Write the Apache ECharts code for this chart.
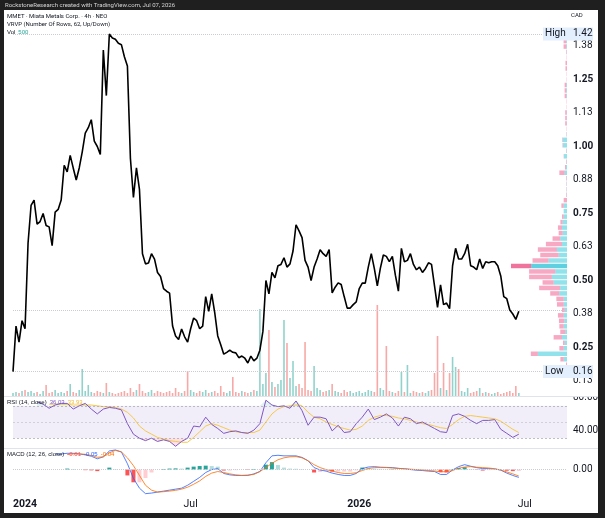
<!DOCTYPE html>
<html>
<head>
<meta charset="utf-8">
<script src="https://cdn.jsdelivr.net/npm/echarts@6/dist/echarts.min.js"></script>
<style>
html, body { margin: 0; padding: 0; background: #1f1f1f; }
#chart { width: 605px; height: 518px; }
</style>
</head>
<body>
<div id="chart"></div>
<script>
// slots on the time scale (3px each), data fills the first part
const N = 185;
const cats = Array.from({ length: N }, (_, i) => String(i));

// close prices, CAD
const price = [
  0.16, 0.33, 0.27, 0.35, 0.32, 0.64, 0.78, 0.80, 0.71, 0.72,
  0.75, 0.705, 0.70, 0.63, 0.755, 0.765, 0.80, 0.93, 0.905, 0.967,
  0.92, 0.875, 0.92, 0.98, 1.05, 1.07, 1.10, 1.02, 1.00, 0.97,
  1.36, 1.19, 1.42, 1.405, 1.40, 1.385, 1.38, 1.335, 1.30, 0.955,
  0.81, 0.92, 0.84, 0.60, 0.562, 0.565, 0.60, 0.58, 0.53, 0.515,
  0.47, 0.46, 0.453, 0.33, 0.293, 0.28, 0.319, 0.29, 0.27, 0.32,
  0.36, 0.35, 0.32, 0.33, 0.44, 0.385, 0.45, 0.38, 0.293, 0.26,
  0.225, 0.232, 0.24, 0.232, 0.23, 0.212, 0.218, 0.21, 0.192, 0.218,
  0.20, 0.21, 0.24, 0.31, 0.50, 0.45, 0.53, 0.51, 0.555, 0.56,
  0.585, 0.55, 0.562, 0.61, 0.708, 0.685, 0.66, 0.575, 0.55, 0.50,
  0.55, 0.58, 0.615, 0.60, 0.59, 0.615, 0.454, 0.475, 0.491, 0.485,
  0.44, 0.397, 0.397, 0.41, 0.42, 0.47, 0.49, 0.49, 0.55, 0.60,
  0.545, 0.48, 0.545, 0.595, 0.59, 0.57, 0.59, 0.52, 0.46, 0.62,
  0.57, 0.575, 0.60, 0.56, 0.54, 0.55, 0.53, 0.545, 0.566, 0.56,
  0.48, 0.40, 0.484, 0.41, 0.416, 0.395, 0.555, 0.62, 0.58, 0.58,
  0.60, 0.635, 0.555, 0.55, 0.54, 0.58, 0.545, 0.57, 0.566, 0.57,
  0.57, 0.555, 0.517, 0.44, 0.432, 0.39, 0.375, 0.355, 0.385
];

// volume, thousand shares
const volume = [
  3, 4, 3, 5, 6, 4, 5, 3, 4, 2,
  5, 11, 3, 4, 6, 3, 4, 3, 5, 12,
  4, 3, 6, 27, 5, 11, 4, 3, 5, 4,
  3, 13, 4, 3, 2, 3, 4, 5, 3, 8,
  4, 6, 12, 5, 3, 4, 6, 3, 5, 4,
  3, 4, 5, 3, 8, 4, 3, 5, 25, 6,
  4, 3, 5, 4, 6, 3, 4, 5, 3, 10,
  4, 3, 5, 19, 4, 3, 5, 4, 3, 4,
  6, 5, 87, 12, 23, 66, 14, 9, 12, 16,
  76, 53, 18, 35, 10, 12, 8, 54, 6, 5,
  30, 8, 6, 4, 5, 6, 12, 5, 4, 3,
  6, 4, 5, 3, 4, 5, 3, 4, 6, 5,
  4, 91, 8, 6, 50, 5, 4, 3, 5, 24,
  4, 31, 3, 5, 4, 3, 4, 3, 5, 6,
  23, 60, 8, 33, 6, 23, 39, 29, 27, 5,
  4, 8, 3, 4, 5, 8, 3, 4, 3, 2,
  3, 4, 2, 3, 4, 5, 3, 10, 3
];

// RSI(14) and its MA, one reading every second slot
const rsiStart = 8;
const rsi = [
  75, 72, 67, 71, 73, 73, 66, 70, 73, 66,
  60, 66, 68, 67, 65, 48, 35, 30, 27, 30,
  26, 28, 26, 20, 26, 30, 45, 44, 56, 47,
  42, 36, 38, 39, 37, 36, 40, 48, 77, 71,
  69, 70, 67, 76, 64, 46, 56, 56, 54, 39,
  46, 37, 38, 48, 56, 66, 53, 56, 60, 55,
  45, 56, 54, 48, 50, 46, 42, 38, 37, 58,
  60, 57, 52, 48, 52, 52, 53, 41, 36, 31,
  35
];
const rsiMaStart = 12;
const rsiMa = [
  72, 72, 72, 72, 71, 71, 71, 71, 70, 69,
  69, 68, 66, 62, 55, 45, 39, 35, 31, 29,
  27, 26, 25, 25, 31, 38, 45, 48, 46, 43,
  40, 38, 37, 37, 37, 40, 50, 60, 66, 69,
  70, 71, 70, 62, 56, 54, 50, 47, 44, 42,
  40, 41, 45, 52, 56, 58, 58, 57, 55, 54,
  52, 50, 48, 47, 45, 43, 42, 47, 53, 57,
  58, 57, 56, 55, 54, 51, 46, 41, 37
];

// MACD(12, 26) line and signal
const macdStart = 14;
const macd = [
  0.08, 0.08, 0.083, 0.083, 0.08, 0.075, 0.068, 0.055, 0.065, 0.095,
  0.10, 0.09, 0.03, -0.045, -0.095, -0.123, -0.12, -0.115, -0.11, -0.105,
  -0.10, -0.095, -0.08, -0.06, -0.04, -0.015, 0.0, 0.005, -0.02, -0.027,
  -0.03, -0.03, -0.03, -0.022, -0.01, 0.035, 0.07, 0.073, 0.07, 0.07,
  0.07, 0.062, 0.045, 0.01, -0.002, -0.008, -0.018, -0.025, -0.03, -0.03,
  -0.02, 0.005, 0.013, 0.015, 0.012, 0.011, 0.01, 0.006, 0.004, 0.0,
  -0.003, -0.005, -0.008, -0.01, -0.025, -0.025, -0.002, 0.015, 0.025, 0.017,
  0.01, 0.005, 0.005, 0.003, -0.003, -0.018, -0.03, -0.04
];
const signalStart = 18;
const signal = [
  0.078, 0.08, 0.08, 0.078, 0.072, 0.063, 0.065, 0.085, 0.098, 0.09,
  0.06, 0.02, -0.03, -0.08, -0.105, -0.115, -0.113, -0.11, -0.106, -0.10,
  -0.09, -0.075, -0.058, -0.035, -0.018, -0.01, -0.015, -0.022, -0.027, -0.03,
  -0.028, -0.025, -0.01, 0.01, 0.032, 0.05, 0.06, 0.065, 0.066, 0.06,
  0.045, 0.025, 0.01, 0.0, -0.008, -0.015, -0.02, -0.02, -0.016, -0.005,
  0.005, 0.01, 0.01, 0.01, 0.008, 0.006, 0.004, 0.002, 0.0, -0.002,
  -0.005, -0.007, -0.012, -0.01, -0.005, 0.007, 0.013, 0.015, 0.012, 0.01,
  0.008, 0.004, -0.002, -0.012, -0.022, -0.033
];

// visible range volume profile, 62 rows from low to high
const vpLow = 0.155, vpHigh = 1.424;
const vpUp = [
  0, 0, 3.3, 29, 3.3, 2.3, 5, 1.7, 3.3, 2.7,
  3.3, 2.3, 3.3, 3.3, 7.7, 6.7, 13.3, 15, 11.7, 35.7,
  18.3, 8.3, 10, 5, 6.7, 4.3, 5, 4.3, 3.3, 3.3,
  3.3, 0, 0.3, 0.3, 0.3, 0.3, 2.3, 1, 0.3, 3,
  0.5, 4, 4.3, 0.3, 0, 0.3, 0.3, 0.3, 0, 0,
  0.7, 0.7, 0.7, 0, 0, 0, 0, 0, 0.3, 0.7,
  0.7, 0
];
const vpDown = [
  0.5, 1, 3.3, 7, 4.3, 1.7, 8.3, 5, 4.3, 5.3,
  5.7, 2.7, 6.7, 7.3, 9, 21, 11, 22.7, 26, 20,
  16, 18.3, 19, 16, 7.7, 4, 4, 2.3, 1.7, 0,
  2.3, 3.3, 0.5, 0.3, 0.3, 0.5, 5.3, 1, 0.5, 0.3,
  0.3, 0.5, 0.5, 0.3, 0.3, 1.5, 1.5, 1.5, 0.3, 0.3,
  1.7, 1.7, 1.7, 0.3, 0.3, 1.5, 1.5, 0.3, 0.5, 2.7,
  2.7, 0.5
];

const priceTicks = [0.125, 0.25, 0.375, 0.5, 0.625, 0.75, 0.875, 1.0, 1.125, 1.25, 1.375];
const boldTicks = [0.25, 0.5, 0.75, 1.0, 1.25];
const timeTickIdx = [4, 59, 115, 170];
const timeTickText = ['2024', 'Jul', '2026', 'Jul'];

const FONT = 'Roboto, "DejaVu Sans", sans-serif';
const INK = '#131722';

const chart = echarts.init(document.getElementById('chart'));

function pairs(arr, start) {
  return arr.map((v, k) => [start + 2 * k, v]);
}

// time scale names: only the labelled slots carry text
const timeCats = cats.map((c, i) => {
  let k = timeTickIdx.indexOf(i);
  return k >= 0 ? timeTickText[k] : '';
});

let hist = signal.map((s, k) => {
  let idx = signalStart + 2 * k;
  let m = macd[(idx - macdStart) / 2];
  return [idx, +(m - s).toFixed(4)];
});
let histData = hist.map((d, k) => {
  let prev = k > 0 ? hist[k - 1][1] : 0;
  let v = d[1], c;
  if (v >= 0) c = v >= prev ? '#26a69a' : '#b2dfdb';
  else c = v < prev ? '#ff5252' : '#ffcdd2';
  return { value: d, itemStyle: { color: c } };
});

let volData = volume.map((v, i) => {
  let up = i === 0 || price[i] >= price[i - 1];
  return { value: v, itemStyle: { color: up ? 'rgba(38,166,154,0.5)' : 'rgba(239,83,80,0.5)' } };
});

// RSI overbought / oversold fills
let rsiOver = pairs(rsi.map(v => Math.max(v, 70)), rsiStart);
let rsiUnder = pairs(rsi.map(v => Math.min(v, 30)), rsiStart);

const vpStep = (vpHigh - vpLow) / vpUp.length;
let vpTotals = vpUp.map((u, k) => u + vpDown[k]);
let vpMax = Math.max(...vpTotals);
let pocRow = vpTotals.indexOf(vpMax);
let vpData = vpUp.map((u, k) => [k, u, vpDown[k]]);

const hiVal = Math.max(...price), loVal = Math.min(...price);
const lastVal = price[price.length - 1];

function baseGraphic() {
  return [
    { id: 'panel', type: 'rect', z: -10, shape: { x: 4, y: 10, width: 594, height: 503 }, style: { fill: '#fff' } },
    { id: 'sep1', type: 'line', z: 15, shape: { x1: 4, y1: 396.5, x2: 598, y2: 396.5 }, style: { stroke: '#e0e3eb', lineWidth: 1 } },
    { id: 'sep2', type: 'line', z: 15, shape: { x1: 4, y1: 448.5, x2: 598, y2: 448.5 }, style: { stroke: '#e0e3eb', lineWidth: 1 } },
    // price scale column is clipped at the pane border, hiding the top of the RSI label
    { id: 'clip', type: 'rect', z: 14, shape: { x: 568, y: 388, width: 30, height: 8.5 }, style: { fill: '#fff' } },
    { id: 'credit', type: 'text', x: 5, y: 2, style: { text: 'RockstoneResearch created with TradingView.com, Jul 07, 2026', fill: '#d6d6d6', fontSize: 6, fontFamily: FONT } },
    { id: 'l1', type: 'text', x: 7, y: 13, style: { text: 'MMET · Miata Metals Corp. · 4h · NEO', fill: INK, fontSize: 6, fontFamily: FONT } },
    { id: 'l2', type: 'text', x: 7, y: 21, style: { text: 'VRVP (Number Of Rows, 62, Up/Down)', fill: INK, fontSize: 6, fontFamily: FONT } },
    { id: 'l3', type: 'text', x: 7, y: 29, style: { text: '{a|Vol}  {b|500}', fontSize: 6, fontFamily: FONT, rich: { a: { fill: INK, fontSize: 6 }, b: { fill: '#26a69a', fontSize: 6 } } } },
    { id: 'cad', type: 'text', x: 571, y: 12, style: { text: 'CAD', fill: INK, fontSize: 6, fontFamily: FONT } },
    { id: 'l4', type: 'text', x: 7, y: 399, z: 16, style: { text: '{a|RSI (14, close)}  {b|36.03}  {c|33.93}', fontSize: 6, fontFamily: FONT, rich: { a: { fill: INK, fontSize: 6 }, b: { fill: '#7e57c2', fontSize: 6 }, c: { fill: '#f2b93b', fontSize: 6 } } } },
    { id: 'l5', type: 'text', x: 7, y: 451, z: 16, style: { text: '{a|MACD (12, 26, close)}  {d|-0.01}  {b|-0.05}  {c|-0.04}', fontSize: 6, fontFamily: FONT, rich: { a: { fill: INK, fontSize: 6 }, d: { fill: '#ff5252', fontSize: 6 }, b: { fill: '#2962ff', fontSize: 6 }, c: { fill: '#ff6d00', fontSize: 6 } } } }
  ];
}

const priceAxisMin = 0.069, priceAxisMax = 1.5093;

const option = {
  backgroundColor: '#1f1f1f',
  animation: false,
  textStyle: { fontFamily: FONT },
  graphic: baseGraphic(),
  grid: [
    { left: 13, right: 38, top: 10, height: 386 },
    { left: 511, right: 38, top: 10, height: 386 },
    { left: 13, right: 38, top: 397, height: 51 },
    { left: 13, right: 38, top: 449, height: 47 }
  ],
  xAxis: [
    { gridIndex: 0, type: 'category', data: cats, boundaryGap: false, show: false },
    { gridIndex: 1, type: 'value', inverse: true, min: 0, max: vpMax, show: false },
    { gridIndex: 2, type: 'category', data: cats, boundaryGap: false, show: false },
    {
      gridIndex: 3, type: 'category', data: timeCats, boundaryGap: false,
      axisLine: { show: false }, axisTick: { show: false },
      axisLabel: {
        interval: 0, margin: 3, color: INK, fontSize: 10.5, fontFamily: FONT,
        formatter: (value) => /^\d+$/.test(value) ? '{b|' + value + '}' : value,
        rich: { b: { fontWeight: 'bold', fontSize: 10.5, color: INK } }
      }
    }
  ],
  yAxis: [
    {
      gridIndex: 0, type: 'value', position: 'right', min: priceAxisMin, max: priceAxisMax,
      axisLine: { show: false }, axisTick: { show: false }, splitLine: { show: false },
      axisLabel: {
        customValues: priceTicks, margin: 6, color: INK, fontSize: 10, fontFamily: FONT,
        formatter: (v) => {
          let t = v.toFixed(2);
          return boldTicks.some(b => Math.abs(b - v) < 1e-6) ? '{b|' + t + '}' : t;
        },
        rich: { b: { fontWeight: 'bold', fontSize: 10, color: INK } }
      }
    },
    { gridIndex: 0, type: 'value', min: 0, max: 386, show: false },
    { gridIndex: 1, type: 'value', min: priceAxisMin, max: priceAxisMax, show: false },
    {
      gridIndex: 2, type: 'value', position: 'right', min: 17.9, max: 80.9,
      axisLine: { show: false }, axisTick: { show: false }, splitLine: { show: false },
      axisLabel: { customValues: [40, 80], margin: 6, color: INK, fontSize: 10, fontFamily: FONT, formatter: v => v.toFixed(2) }
    },
    {
      gridIndex: 3, type: 'value', position: 'right', min: -0.135, max: 0.105,
      axisLine: { show: false }, axisTick: { show: false }, splitLine: { show: false },
      axisLabel: { customValues: [0], margin: 6, color: INK, fontSize: 10, fontFamily: FONT, formatter: v => v.toFixed(2) }
    }
  ],
  series: [
    {
      name: 'Vol', type: 'bar', xAxisIndex: 0, yAxisIndex: 1, data: volData,
      barWidth: 1.6, z: 1, silent: true
    },
    {
      name: 'VRVP', type: 'custom', xAxisIndex: 1, yAxisIndex: 2, data: vpData, z: 3, silent: true,
      renderItem: (params, api) => {
        let k = api.value(0), up = api.value(1), down = api.value(2);
        let lo = vpLow + k * vpStep, hi = lo + vpStep;
        let p0 = api.coord([0, hi]);
        let pUp = api.coord([up, lo]);
        let pAll = api.coord([up + down, lo]);
        let h = pUp[1] - p0[1] - 1;
        let poc = k === pocRow;
        return {
          type: 'group',
          children: [
            { type: 'rect', shape: { x: pUp[0], y: p0[1] + 0.5, width: p0[0] - pUp[0], height: h },
              style: { fill: poc ? '#5ed0e0' : 'rgba(38,198,218,0.5)' } },
            { type: 'rect', shape: { x: pAll[0], y: p0[1] + 0.5, width: pUp[0] - pAll[0], height: h },
              style: { fill: poc ? '#f0739d' : 'rgba(240,98,146,0.55)' } }
          ]
        };
      }
    },
    {
      name: 'Close', type: 'line', xAxisIndex: 0, yAxisIndex: 0, data: price,
      symbol: 'none', z: 5, lineStyle: { color: '#000', width: 1.6 },
      markLine: {
        silent: true, symbol: 'none', label: { show: false },
        lineStyle: { color: '#c9ccd4', type: 'dotted', width: 1 },
        data: [{ yAxis: hiVal }, { yAxis: loVal }, { yAxis: lastVal }]
      }
    },
    {
      name: 'RSI', type: 'line', xAxisIndex: 2, yAxisIndex: 3, data: pairs(rsi, rsiStart),
      symbol: 'none', z: 4, lineStyle: { color: '#7e57c2', width: 1 },
      markArea: { silent: true, itemStyle: { color: 'rgba(126,87,194,0.1)' }, data: [[{ yAxis: 30 }, { yAxis: 70 }]] },
      markLine: {
        silent: true, symbol: 'none', label: { show: false },
        lineStyle: { color: '#9598a1', type: [2, 2], width: 1, opacity: 0.6 },
        data: [{ yAxis: 70 }, { yAxis: 50, lineStyle: { opacity: 0.35 } }, { yAxis: 30 }]
      }
    },
    {
      name: 'RSI over', type: 'line', xAxisIndex: 2, yAxisIndex: 3, data: rsiOver,
      symbol: 'none', z: 2, silent: true, lineStyle: { width: 0 },
      areaStyle: { origin: 70, color: 'rgba(8,153,129,0.18)' }
    },
    {
      name: 'RSI under', type: 'line', xAxisIndex: 2, yAxisIndex: 3, data: rsiUnder,
      symbol: 'none', z: 2, silent: true, lineStyle: { width: 0 },
      areaStyle: { origin: 30, color: 'rgba(242,54,69,0.22)' }
    },
    {
      name: 'RSI MA', type: 'line', xAxisIndex: 2, yAxisIndex: 3, data: pairs(rsiMa, rsiMaStart),
      symbol: 'none', z: 3, lineStyle: { color: '#f5c94a', width: 1 }
    },
    {
      name: 'Histogram', type: 'bar', xAxisIndex: 3, yAxisIndex: 4, data: histData,
      barWidth: 4, z: 2, silent: true,
      markLine: {
        silent: true, symbol: 'none', label: { show: false },
        lineStyle: { color: '#c9ccd4', type: 'dotted', width: 1 },
        data: [{ yAxis: 0 }]
      }
    },
    {
      name: 'MACD', type: 'line', xAxisIndex: 3, yAxisIndex: 4, data: pairs(macd, macdStart),
      symbol: 'none', z: 4, lineStyle: { color: '#2962ff', width: 1, opacity: 0.8 }
    },
    {
      name: 'Signal', type: 'line', xAxisIndex: 3, yAxisIndex: 4, data: pairs(signal, signalStart),
      symbol: 'none', z: 4, lineStyle: { color: '#ff6d00', width: 1, opacity: 0.8 }
    }
  ]
};

chart.setOption(option);

// High / Low tags on the price scale
const yHi = chart.convertToPixel({ yAxisIndex: 0 }, hiVal);
const yLo = chart.convertToPixel({ yAxisIndex: 0 }, loVal);
function tag(id, y, label, val) {
  return [
    { id: id + 'bg', type: 'rect', z: 20, shape: { x: 543, y: y - 6.5, width: 50, height: 13 }, style: { fill: '#e3effd' } },
    { id: id + 'l', type: 'text', z: 21, x: 545, y: y, style: { text: label, fill: INK, fontSize: 10, fontFamily: FONT, verticalAlign: 'middle' } },
    { id: id + 'v', type: 'text', z: 21, x: 573, y: y, style: { text: val.toFixed(2), fill: INK, fontSize: 10, fontFamily: FONT, verticalAlign: 'middle' } }
  ];
}
chart.setOption({ graphic: baseGraphic().concat(tag('hi', yHi, 'High', hiVal), tag('lo', yLo, 'Low', loVal)) });
</script>
</body>
</html>
